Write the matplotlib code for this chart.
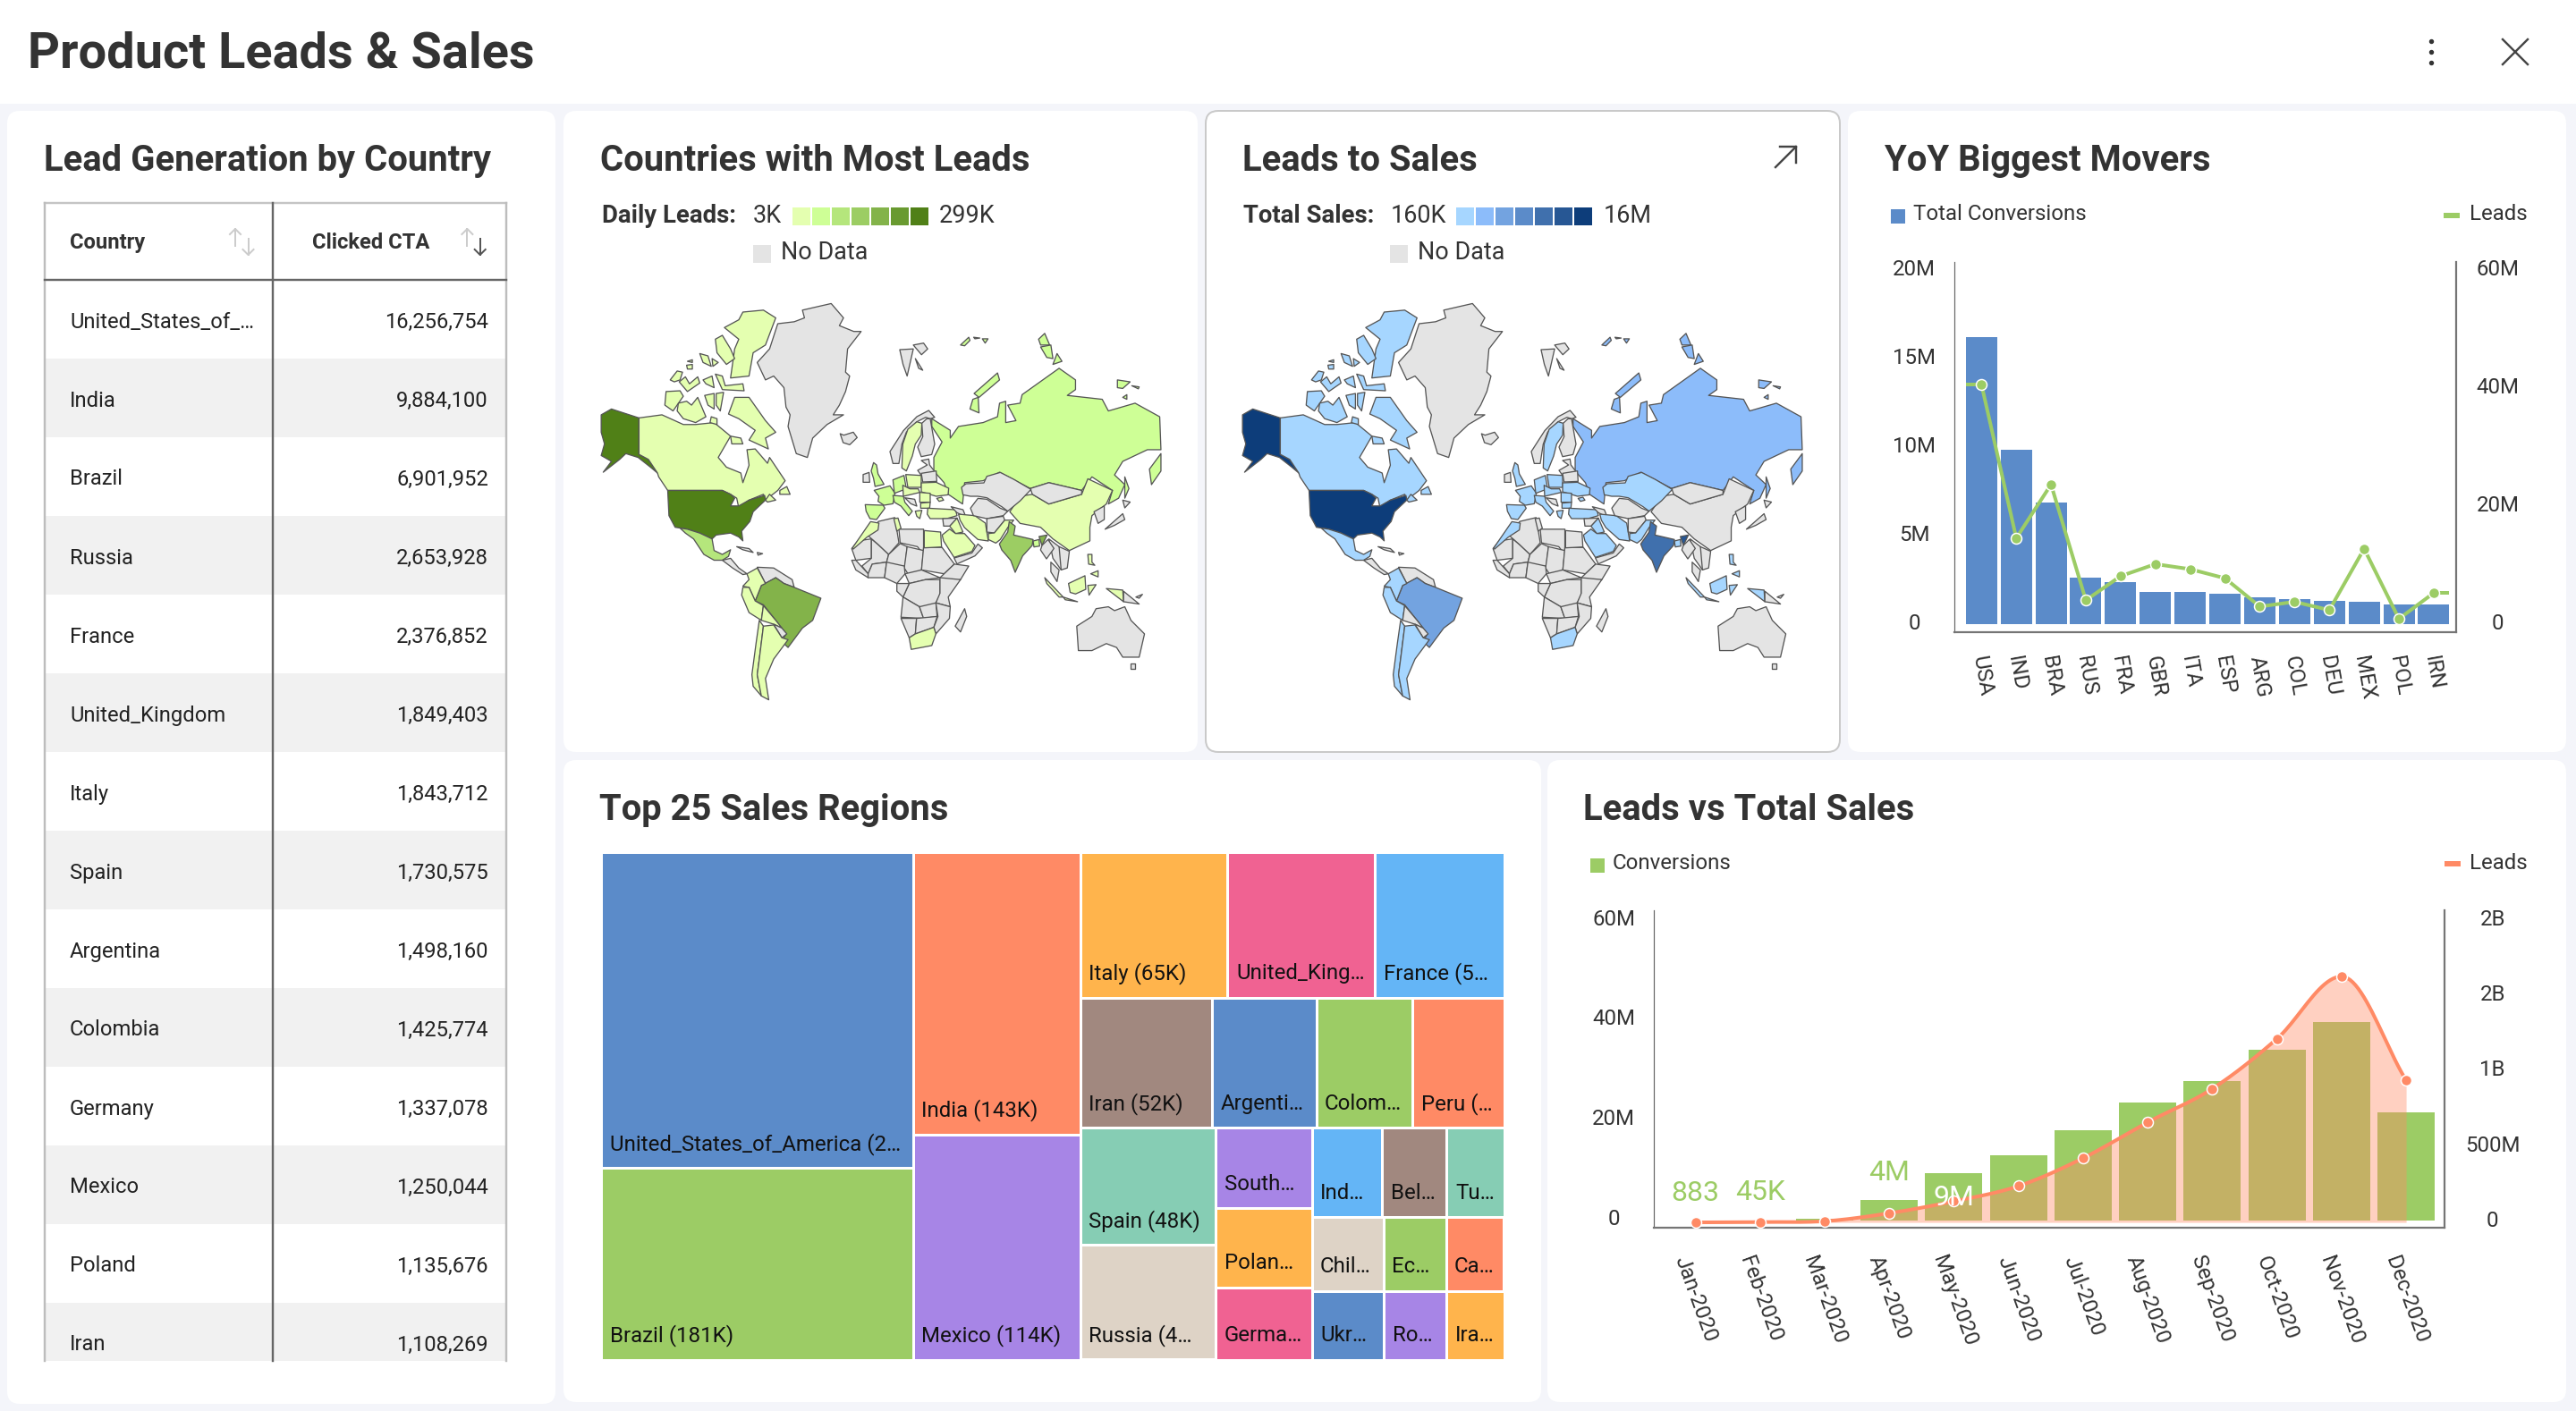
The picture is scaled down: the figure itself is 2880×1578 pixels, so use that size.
import numpy as np
import matplotlib
matplotlib.use("Agg")
import matplotlib.pyplot as plt
from matplotlib.patches import FancyBboxPatch, Polygon, Rectangle
from matplotlib.transforms import ScaledTranslation

plt.rcParams["font.family"] = ["Roboto", "DejaVu Sans"]

W, H = 2880, 1578
TXT = "#333333"

# table / YoY chart
countries = ["United_States_of_…", "India", "Brazil", "Russia", "France", "United_Kingdom", "Italy",
             "Spain", "Argentina", "Colombia", "Germany", "Mexico", "Poland", "Iran"]
clicked_cta = [16256754, 9884100, 6901952, 2653928, 2376852, 1849403, 1843712,
               1730575, 1498160, 1425774, 1337078, 1250044, 1135676, 1108269]
codes = ["USA", "IND", "BRA", "RUS", "FRA", "GBR", "ITA", "ESP", "ARG", "COL", "DEU", "MEX", "POL", "IRN"]
yoy_leads = [40.66, 14.6, 23.7, 4.07, 8.16, 10.2, 9.34, 7.8, 3.0, 3.8, 2.4, 12.8, 0.92, 5.3]  # millions

# monthly chart
months = ["Jan-2020", "Feb-2020", "Mar-2020", "Apr-2020", "May-2020", "Jun-2020", "Jul-2020",
          "Aug-2020", "Sep-2020", "Oct-2020", "Nov-2020", "Dec-2020"]
conversions = [0.000883, 0.045, 0.45, 4.06, 9.4, 13.0, 18.0, 23.6, 27.9, 34.1, 39.7, 21.6]  # millions
month_leads = [0.0, 2.6, 8, 61, 140, 241, 426, 664, 886, 1217, 1630, 942]  # millions
conv_labels = {0: "883", 1: "45K", 3: "4M", 4: "9M"}

# treemap
BLUE, GREEN, CORAL, PURPLE = "#5b8bc9", "#9ccc65", "#ff8a65", "#a785e6"
AMBER, PINK, SKY, BROWN, TEAL, SAND = "#ffb44c", "#f06292", "#64b5f6", "#a1887f", "#86cdb4", "#ded3c6"
tree_names = ["USA", "BRA", "IND", "MEX", "ITA", "GBR", "FRA", "IRN", "ARG", "COL", "PER", "ESP", "RUS",
              "ZAF", "POL", "DEU", "IDN", "BEL", "TUR", "CHL", "ECU", "CAN", "UKR", "ROU", "IRQ"]
tree_values = [299, 181, 143, 114, 65, 65, 57, 52, 41, 38, 36, 48, 47,
               23.5, 23, 21, 19, 17.5, 15.5, 16, 14, 13, 15, 13, 12]
tree_labels = ["United_States_of_America (2…", "Brazil (181K)", "India (143K)", "Mexico (114K)", "Italy (65K)",
               "United_King…", "France (5…", "Iran (52K)", "Argenti…", "Colom…", "Peru (…", "Spain (48K)",
               "Russia (4…", "South…", "Polan…", "Germa…", "Ind…", "Bel…", "Tu…", "Chil…", "Ec…", "Ca…",
               "Ukr…", "Ro…", "Ira…"]
tree_colors = [BLUE, GREEN, CORAL, PURPLE, AMBER, PINK, SKY, BROWN, BLUE, GREEN, CORAL, TEAL, SAND,
               PURPLE, AMBER, PINK, SKY, BROWN, TEAL, SAND, GREEN, CORAL, BLUE, PURPLE, AMBER]
tree_layout = [["USA", "BRA"], ["IND", "MEX"],
               [["ITA", "GBR", "FRA"], ["IRN", "ARG", "COL", "PER"],
                [["ESP", "RUS"], ["ZAF", "POL", "DEU"],
                 [["IDN", "BEL", "TUR"], ["CHL", "ECU", "CAN"], ["UKR", "ROU", "IRQ"]]]]]

# map legends
green_bins = ["#e4ffb0", "#ceff96", "#b5e67c", "#9ccd63", "#83b34a", "#699a30", "#508017"]
blue_bins = ["#a6d6ff", "#8cbcfa", "#73a3e0", "#5b8bc9", "#4070ad", "#275794", "#0d3d7a"]
NO_DATA = "#e4e4e4"

# which legend bin each shape falls in, anything not listed is No Data
leads_bin = {"alaska": 6, "usa": 6, "canada": 0, "ellesmere": 0, "axel": 0, "baffin": 0, "arc1": 0, "arc2": 0, "arc3": 0,
             "arc4": 0, "arc5": 0, "arc6": 0, "arc7": 0, "arc8": 0, "arc9": 0, "arc10": 0, "arc11": 0, "arc12": 0,
             "arc13": 0, "arc14": 0, "newf": 0, "scotia": 0, "mexico": 2, "brazil": 4, "colombia": 0, "peru": 0,
             "bolivia": 0, "chile": 0, "argentina": 0, "russia": 1, "kamchatka": 1, "sakhalin": 1, "zemlya1": 1,
             "zemlya2": 1, "sib1": 1, "sib2": 1, "sib3": 1, "sib4": 1, "sib5": 1, "sib6": 1, "fj1": 1, "fj2": 1, "fj3": 1,
             "china": 0, "india": 3, "neindia": 4, "bangla": 1, "pakistan": 0, "iran": 0, "iraq": 0, "saudi": 0,
             "turkey": 0, "egypt": 0, "morocco": 0, "tunisia": 0, "safrica": 0, "sweden": 0, "uk": 1, "france": 1,
             "spain": 1, "germany": 1, "poland": 0, "ukraine": 0, "italy": 1, "austria": 0, "romania": 0,
             "bulgaria": 0, "greece": 0, "crimea": 0, "sumatra": 0, "java": 0, "borneo": 0, "sulawesi": 0,
             "phil": 0, "phil2": 0, "png": 0}
sales_bin = {"alaska": 6, "usa": 6, "canada": 0, "ellesmere": 0, "axel": 0, "baffin": 0, "arc1": 0, "arc2": 0, "arc3": 0,
             "arc4": 0, "arc5": 0, "arc6": 0, "arc7": 0, "arc8": 0, "arc9": 0, "arc10": 0, "arc11": 0, "arc12": 0,
             "arc13": 0, "arc14": 0, "newf": 0, "scotia": 0, "mexico": 0, "brazil": 2, "colombia": 0, "peru": 0,
             "chile": 0, "argentina": 0, "russia": 1, "kamchatka": 1, "sakhalin": 1, "zemlya1": 1,
             "zemlya2": 1, "sib1": 1, "sib2": 1, "sib3": 1, "sib4": 1, "sib5": 1, "sib6": 1, "fj1": 1, "fj2": 1, "fj3": 1,
             "kazakh": 0, "india": 4, "neindia": 5, "bangla": 0, "pakistan": 0, "iran": 0, "saudi": 0,
             "turkey": 0, "morocco": 0, "safrica": 0, "sweden": 0, "uk": 0, "france": 0, "spain": 0, "germany": 0,
             "poland": 0, "ukraine": 0, "italy": 0, "austria": 0, "romania": 0, "bulgaria": 0, "greece": 0,
             "crimea": 0, "sumatra": 0, "java": 0, "borneo": 0, "sulawesi": 0, "phil": 0, "phil2": 0, "png": 0,
             "iraq": 0}

# rough outlines of the base map, traced by eye (map units)
world = {
    "alaska": [(70, 770), (95, 755), (162, 778), (162, 872), (185, 885), (207, 920), (190, 905), (160, 880), (130, 870),
               (115, 885), (75, 918), (95, 890), (70, 875), (78, 845), (70, 815)],
    "canada": [(162, 778), (218, 770), (270, 795), (300, 795), (345, 790), (385, 825), (355, 880), (375, 905), (410, 920),
               (415, 945), (430, 900), (425, 860), (445, 858), (475, 895), (480, 880), (518, 940), (500, 965), (470, 990),
               (465, 975), (430, 990), (405, 1010), (400, 985), (385, 975), (365, 965), (232, 965), (210, 930), (207, 920),
               (185, 885), (162, 872)],
    "usa": [(232, 965), (365, 965), (385, 975), (395, 985), (385, 1005), (405, 1005), (430, 990), (468, 978), (470, 990),
            (440, 1020), (432, 1045), (412, 1070), (415, 1095), (405, 1085), (385, 1075), (350, 1080), (340, 1090),
            (310, 1075), (280, 1065), (250, 1060), (235, 1030)],
    "mexico": [(262, 1062), (280, 1065), (310, 1075), (340, 1090), (345, 1120), (365, 1130), (385, 1118), (380, 1135),
               (365, 1145), (345, 1145), (320, 1130), (295, 1090), (275, 1075)],
    "camerica": [(365, 1145), (385, 1140), (405, 1165), (425, 1180), (415, 1182), (390, 1165)],
    "cuba": [(400, 1110), (430, 1115), (440, 1125), (415, 1118)],
    "hisp": [(450, 1125), (463, 1128), (452, 1132)],
    "greenland": [(560, 500), (630, 483), (660, 520), (650, 540), (685, 555), (703, 555), (670, 600), (665, 660), (675, 670),
                  (665, 710), (650, 745), (635, 770), (660, 770), (620, 795), (585, 830), (572, 880), (545, 870), (525, 800),
                  (530, 770), (520, 750), (515, 700), (490, 670), (470, 680), (450, 635), (480, 600), (500, 535), (540, 530),
                  (565, 520)],
    "ellesmere": [(415, 505), (465, 500), (495, 520), (470, 590), (440, 610), (430, 670), (385, 675), (395, 600), (405, 575),
                  (370, 545), (405, 525)],
    "axel": [(348, 575), (365, 565), (385, 600), (395, 625), (375, 640), (352, 610)],
    "baffin": [(395, 725), (430, 725), (470, 785), (495, 815), (470, 830), (477, 858), (430, 835), (445, 810), (405, 780),
               (380, 768)],
    "arc1": [(310, 612), (330, 618), (338, 645), (318, 635)],
    "arc2": [(340, 625), (355, 635), (342, 645)],
    "arc3": [(280, 632), (292, 628), (292, 635)],
    "arc4": [(278, 642), (292, 640), (292, 652), (280, 652)],
    "arc5": [(238, 680), (255, 657), (268, 660), (262, 680), (248, 685)],
    "arc6": [(260, 685), (275, 672), (285, 690), (305, 672), (310, 688), (280, 710)],
    "arc7": [(318, 680), (340, 670), (345, 700), (325, 690)],
    "arc8": [(348, 665), (365, 670), (372, 695), (415, 690), (418, 708), (365, 705)],
    "arc9": [(228, 710), (262, 708), (270, 722), (245, 760), (225, 745)],
    "arc10": [(258, 740), (278, 735), (290, 745), (305, 725), (325, 775), (300, 790), (270, 780), (255, 760)],
    "arc11": [(322, 720), (345, 715), (345, 755), (330, 745)],
    "arc12": [(350, 715), (368, 712), (360, 760), (350, 745)],
    "arc13": [(338, 775), (352, 780), (352, 795), (335, 790)],
    "arc14": [(385, 825), (410, 830), (415, 845), (388, 845)],
    "newf": [(505, 965), (522, 955), (530, 975), (505, 975)],
    "scotia": [(470, 990), (480, 975), (495, 990), (475, 995)],
    "venezuela": [(450, 1163), (490, 1165), (535, 1195), (540, 1215), (515, 1205), (495, 1190), (470, 1205)],
    "brazil": [(460, 1210), (495, 1190), (515, 1205), (540, 1215), (605, 1243), (585, 1300), (560, 1320), (525, 1370),
               (510, 1355), (520, 1335), (495, 1300), (465, 1260), (445, 1250)],
    "colombia": [(425, 1180), (450, 1165), (470, 1205), (460, 1210), (445, 1250), (430, 1215), (415, 1212), (430, 1195)],
    "peru": [(415, 1215), (430, 1215), (445, 1250), (465, 1262), (460, 1300), (430, 1280), (412, 1235)],
    "bolivia": [(465, 1262), (495, 1300), (510, 1320), (490, 1310), (460, 1300)],
    "paraguay": [(490, 1310), (510, 1320), (522, 1335), (510, 1345)],
    "chile": [(455, 1300), (465, 1315), (455, 1400), (450, 1440), (460, 1495), (440, 1470), (437, 1440), (447, 1360)],
    "argentina": [(465, 1315), (490, 1312), (510, 1345), (525, 1350), (490, 1400), (470, 1450), (478, 1505), (460, 1495),
                  (450, 1440), (455, 1400)],
    "mauritania": [(680, 1115), (695, 1095), (728, 1090), (728, 1140), (690, 1145)],
    "mali": [(728, 1090), (745, 1105), (770, 1130), (765, 1150), (730, 1155), (720, 1180), (705, 1160), (728, 1140)],
    "algeria": [(745, 1045), (785, 1035), (795, 1100), (770, 1130), (745, 1105), (718, 1080)],
    "libya": [(795, 1065), (855, 1065), (855, 1130), (840, 1110), (798, 1100)],
    "niger": [(770, 1130), (798, 1102), (815, 1110), (810, 1160), (770, 1165), (765, 1150)],
    "chad": [(815, 1110), (855, 1120), (850, 1170), (820, 1185), (808, 1165)],
    "sudan": [(855, 1112), (900, 1112), (930, 1155), (905, 1180), (850, 1170)],
    "ethiopia": [(905, 1180), (930, 1155), (965, 1160), (945, 1195), (905, 1205), (895, 1190)],
    "senegal": [(680, 1145), (690, 1145), (720, 1180), (720, 1190), (690, 1170)],
    "ghana": [(720, 1180), (730, 1155), (765, 1150), (760, 1190), (720, 1190)],
    "nigeria": [(765, 1150), (808, 1160), (810, 1180), (790, 1205), (760, 1190)],
    "car": [(810, 1180), (850, 1170), (895, 1190), (860, 1195), (820, 1205)],
    "drc": [(820, 1205), (860, 1195), (895, 1195), (895, 1235), (885, 1255), (880, 1290), (845, 1265), (805, 1240)],
    "gabon": [(790, 1205), (820, 1205), (805, 1240), (790, 1225)],
    "kenya": [(895, 1190), (945, 1195), (915, 1240), (920, 1265), (885, 1255), (895, 1230)],
    "angola": [(805, 1240), (845, 1265), (855, 1295), (800, 1292)],
    "namibia": [(800, 1295), (838, 1295), (835, 1335), (820, 1345)],
    "zambia": [(845, 1265), (885, 1255), (888, 1290), (855, 1295)],
    "botswana": [(838, 1295), (888, 1290), (880, 1318), (835, 1335)],
    "mozambique": [(885, 1255), (920, 1265), (918, 1295), (885, 1335), (880, 1318), (890, 1290)],
    "safrica": [(820, 1345), (835, 1335), (880, 1318), (885, 1335), (875, 1365), (825, 1375)],
    "madagascar": [(955, 1270), (960, 1290), (945, 1330), (932, 1315)],
    "russia": [(875, 780), (920, 810), (920, 830), (940, 800), (1000, 790), (1035, 775), (1040, 740), (1055, 735), (1055, 790),
               (1080, 785), (1060, 745), (1090, 740), (1095, 718), (1185, 650), (1225, 680), (1225, 705), (1205, 720),
               (1290, 730), (1305, 760), (1370, 740), (1430, 775), (1433, 860), (1400, 860), (1340, 890), (1320, 925),
               (1345, 950), (1330, 985), (1305, 1000), (1315, 965), (1265, 930), (1240, 965), (1160, 945), (1115, 960),
               (1040, 918), (1000, 940), (955, 945), (950, 1000), (915, 975), (905, 945), (880, 915), (880, 880), (900, 840),
               (875, 800)],
    "kamchatka": [(1433, 870), (1405, 910), (1410, 950), (1433, 915)],
    "sakhalin": [(1345, 930), (1355, 960), (1345, 985)],
    "zemlya1": [(978, 715), (1035, 662), (1040, 680), (990, 725)],
    "zemlya2": [(975, 730), (988, 725), (990, 765), (968, 755)],
    "sib1": [(1135, 575), (1150, 560), (1162, 590), (1140, 590)],
    "sib2": [(1140, 595), (1165, 590), (1170, 625), (1155, 622)],
    "sib3": [(1170, 640), (1180, 612), (1192, 632)],
    "sib4": [(1327, 680), (1358, 685), (1340, 702), (1327, 700)],
    "sib5": [(1362, 695), (1380, 698), (1378, 703)],
    "sib6": [(1340, 725), (1350, 718), (1350, 730)],
    "fj1": [(945, 590), (965, 570), (968, 578), (955, 592)],
    "fj2": [(977, 570), (992, 572), (980, 574)],
    "fj3": [(998, 574), (1012, 574), (1005, 585)],
    "sval1": [(797, 602), (830, 600), (815, 670), (805, 640)],
    "sval2": [(830, 590), (855, 585), (865, 600), (850, 615)],
    "sval3": [(835, 625), (853, 655), (843, 650)],
    "china": [(1120, 975), (1160, 1000), (1240, 975), (1255, 935), (1315, 965), (1300, 1000), (1265, 1030), (1260, 1060),
              (1260, 1095), (1210, 1120), (1170, 1090), (1140, 1060), (1090, 1050), (1065, 1020), (1090, 980)],
    "mongolia": [(1115, 960), (1160, 945), (1240, 965), (1240, 975), (1160, 1000), (1120, 975)],
    "japan": [(1297, 1065), (1340, 1025), (1345, 1040), (1320, 1055)],
    "hokkaido": [(1340, 990), (1358, 995), (1345, 1010)],
    "korea": [(1270, 1020), (1295, 1005), (1295, 1040), (1280, 1050)],
    "thai": [(1160, 1090), (1185, 1110), (1205, 1150), (1190, 1170), (1170, 1140)],
    "vietnam": [(1185, 1110), (1210, 1122), (1205, 1165), (1190, 1170)],
    "malay": [(1165, 1150), (1185, 1170), (1180, 1200), (1165, 1175)],
    "sumatra": [(1150, 1190), (1195, 1240), (1185, 1240), (1155, 1205)],
    "java": [(1195, 1240), (1230, 1252), (1200, 1247)],
    "borneo": [(1208, 1205), (1248, 1185), (1250, 1220), (1225, 1232), (1212, 1228)],
    "sulawesi": [(1255, 1210), (1275, 1208), (1258, 1235)],
    "phil": [(1255, 1130), (1265, 1130), (1265, 1150), (1272, 1158), (1257, 1155)],
    "phil2": [(1262, 1180), (1280, 1172), (1280, 1188)],
    "png": [(1300, 1218), (1340, 1222), (1342, 1252)],
    "png2": [(1342, 1225), (1380, 1258), (1342, 1252)],
    "png3": [(1372, 1240), (1388, 1233), (1380, 1243)],
    "australia": [(1228, 1315), (1265, 1290), (1275, 1270), (1305, 1265), (1320, 1275), (1345, 1265), (1360, 1300), (1393, 1335),
                  (1380, 1395), (1340, 1395), (1325, 1370), (1300, 1360), (1265, 1378), (1232, 1378)],
    "tasmania": [(1358, 1412), (1370, 1412), (1370, 1425), (1360, 1425)],
}

# Europe and the middle east were traced on a closer crop, so they get scaled down into map units
europe = {
    "iceland": [(28, 135), (40, 140), (72, 130), (85, 148), (60, 172), (38, 165)],
    "norway": [(195, 195), (240, 125), (285, 78), (325, 57), (345, 80), (330, 85), (315, 80), (285, 95), (250, 130), (235, 170),
               (225, 235), (205, 235)],
    "sweden": [(285, 95), (302, 100), (300, 140), (280, 170), (270, 210), (250, 260), (235, 250), (238, 170), (255, 120)],
    "finland": [(330, 85), (345, 170), (335, 205), (300, 212), (288, 180), (305, 145), (302, 100), (318, 85)],
    "baltics": [(300, 225), (325, 220), (328, 240), (345, 262), (300, 275), (288, 258), (320, 240)],
    "uk": [(140, 232), (150, 240), (155, 270), (175, 305), (145, 312), (140, 285), (132, 260)],
    "ireland": [(105, 272), (125, 265), (127, 298), (105, 298)],
    "france": [(142, 325), (195, 310), (212, 335), (205, 370), (175, 375), (155, 362), (158, 345)],
    "spain": [(112, 373), (172, 375), (178, 385), (150, 423), (128, 420), (115, 395)],
    "germany": [(205, 290), (242, 275), (250, 320), (210, 335)],
    "poland": [(248, 272), (300, 275), (300, 315), (255, 315)],
    "belarus": [(300, 268), (350, 260), (352, 295), (305, 297)],
    "ukraine": [(300, 300), (350, 298), (392, 318), (390, 340), (350, 345), (300, 330)],
    "italy": [(205, 342), (240, 345), (245, 365), (270, 395), (258, 410), (232, 378), (210, 365)],
    "austria": [(238, 308), (262, 320), (290, 320), (295, 332), (240, 345)],
    "romania": [(295, 332), (330, 335), (330, 365), (295, 365)],
    "bulgaria": [(298, 368), (330, 365), (328, 385), (298, 385)],
    "balkans": [(245, 350), (278, 355), (285, 378), (265, 370)],
    "greece": [(280, 395), (302, 392), (295, 420), (285, 412)],
    "turkey": [(322, 385), (415, 390), (420, 410), (385, 420), (330, 420), (320, 405)],
    "crimea": [(352, 352), (368, 348), (375, 358), (360, 362)],
    "caucasus": [(400, 380), (440, 390), (450, 415), (420, 400)],
    "iran": [(425, 405), (480, 410), (515, 435), (525, 495), (490, 490), (445, 450), (430, 425)],
    "iraq": [(395, 445), (420, 418), (440, 465), (415, 470)],
    "syria": [(372, 420), (420, 418), (395, 445), (375, 445)],
    "saudi": [(370, 475), (395, 455), (415, 470), (445, 470), (480, 510), (470, 530), (410, 550), (375, 495)],
    "yemen": [(410, 552), (470, 535), (490, 505), (505, 518), (480, 545), (420, 572)],
    "egypt": [(310, 460), (365, 465), (368, 515), (310, 518)],
    "tunisia": [(208, 420), (222, 418), (232, 452), (218, 462)],
    "morocco": [(68, 520), (130, 430), (158, 435), (155, 458), (118, 482), (72, 522)],
    "kazakh": [(435, 315), (450, 303), (510, 300), (520, 278), (565, 265), (610, 288), (668, 322), (632, 360), (590, 395),
               (570, 380), (520, 350), (490, 345), (465, 345), (440, 340)],
    "uzbek": [(465, 385), (490, 352), (520, 355), (565, 385), (590, 395), (575, 410), (520, 420), (475, 410)],
    "afghan": [(520, 420), (575, 412), (580, 425), (545, 468), (520, 465)],
    "pakistan": [(525, 470), (545, 468), (580, 425), (610, 425), (590, 450), (565, 490), (550, 502), (525, 490)],
    "india": [(595, 430), (615, 445), (610, 475), (675, 490), (672, 510), (640, 545), (615, 600), (600, 560), (570, 525),
              (562, 505), (590, 465)],
    "bangla": [(675, 495), (695, 490), (697, 512), (678, 515)],
    "neindia": [(695, 480), (722, 475), (705, 510)],
    "myanmar": [(705, 510), (725, 490), (745, 520), (720, 555), (700, 525)],
}
for name, pts in europe.items():
    world[name] = [(631.6 + 0.726 * x, 714.9 + 0.7687 * y) for x, y in pts]


def fs(px):
    # font size / line width given in image pixels
    return px * 0.72


def smooth(xs, ys, n=24):
    # cubic hermite through the points, flat at peaks so the curve stays on them
    xs, ys = np.asarray(xs, float), np.asarray(ys, float)
    m = np.gradient(ys, xs)
    d = np.diff(ys)
    for i in range(1, len(ys) - 1):
        if d[i - 1] * d[i] <= 0:
            m[i] = 0
    xx, yy = [], []
    for i in range(len(xs) - 1):
        t = np.linspace(0, 1, n)
        yy.append((2*t**3 - 3*t**2 + 1)*ys[i] + (t**3 - 2*t**2 + t)*m[i] + (-2*t**3 + 3*t**2)*ys[i+1] + (t**3 - t**2)*m[i+1])
        xx.append(xs[i] + t)
    return np.concatenate(xx), np.concatenate(yy)


def px_axes(left, top, right, bottom):
    return fig.add_axes([left / W, 1 - bottom / H, (right - left) / W, (bottom - top) / H], facecolor="none")


def lift_ticks(axis, px):
    # tick labels sit a little above their value in the reference
    off = ScaledTranslation(0, px / 100, fig.dpi_scale_trans)
    for lab in axis.get_yticklabels():
        lab.set_transform(lab.get_transform() + off)


def card(x0, y0, x1, y1, border="none"):
    bg.add_patch(FancyBboxPatch((x0 + 14, y0 + 14), x1 - x0 - 28, y1 - y0 - 28, boxstyle="round,pad=14,rounding_size=14",
                                fc="white", ec=border, lw=fs(2), zorder=1))


def title(x, y, s):
    bg.text(x, y + 3.5, s, fontsize=fs(40), fontweight="bold", color=TXT, va="center", ha="left", zorder=5)


def draw_map(dx, bins, palette):
    for name, pts in world.items():
        b = bins.get(name, -1)
        col = palette[b] if b >= 0 else NO_DATA
        xy = [(640 + x / 2.178 + dx, 130 + y / 2.306) for x, y in pts]
        bg.add_patch(Polygon(xy, closed=True, fc=col, ec="#555555", lw=fs(1.3), joinstyle="round", zorder=3))


def map_legend(x_lab, s, x_lo, lo, x_sw, palette, x_hi, hi, x_nd, x_ndt):
    bg.text(x_lab, 241, s, fontsize=fs(27.5), fontweight="bold", color=TXT, va="center", zorder=5)
    bg.text(x_lo, 241, lo, fontsize=fs(27), color=TXT, va="center", zorder=5)
    for i, c in enumerate(palette):
        bg.add_patch(Rectangle((x_sw + i * 22, 232), 20, 20, fc=c, ec="none", zorder=3))
    bg.text(x_hi, 241, hi, fontsize=fs(27), color=TXT, va="center", zorder=5)
    bg.add_patch(Rectangle((x_nd, 274), 20, 20, fc=NO_DATA, ec="none", zorder=3))
    bg.text(x_ndt, 282, "No Data", fontsize=fs(27), color=TXT, va="center", zorder=5)


def sort_arrows(x_up, x_down, col_up, col_down):
    for x, y0, y1, c in [(x_up, 275, 256, col_up), (x_down, 267, 285, col_down)]:
        d = 6 if y1 > y0 else -6
        bg.plot([x, x], [y0, y1], color=c, lw=fs(2), zorder=5)
        bg.plot([x - 6, x, x + 6], [y1 - d, y1, y1 - d], color=c, lw=fs(2), zorder=5)


def layout(node, x0, y0, x1, y1, across=True):
    # nested slice layout, sizes come from the values
    if isinstance(node, str):
        i = tree_names.index(node)
        tree.add_patch(Rectangle((x0, y0), x1 - x0, y1 - y0, fc=tree_colors[i], ec="white", lw=fs(3)))
        tree.annotate(tree_labels[i], (x0, y1), xytext=(fs(9.5), fs(27)), textcoords="offset points",
                      fontsize=fs(24), color="#111111", va="center", ha="left")
        return
    sizes = [node_total(c) for c in node]
    pos = 0
    total = sum(sizes)
    for c, s in zip(node, sizes):
        f0, f1 = pos / total, (pos + s) / total
        if across:
            layout(c, x0 + f0 * (x1 - x0), y0, x0 + f1 * (x1 - x0), y1, False)
        else:
            layout(c, x0, y0 + f0 * (y1 - y0), x1, y0 + f1 * (y1 - y0), True)
        pos += s


def node_total(node):
    if isinstance(node, str):
        return tree_values[tree_names.index(node)]
    return sum(node_total(c) for c in node)


fig = plt.figure(figsize=(W / 100, H / 100), dpi=100, facecolor="#f4f5fa")
bg = fig.add_axes([0, 0, 1, 1], facecolor="none")
bg.set_xlim(0, W)
bg.set_ylim(H, 0)
bg.axis("off")

# top bar
bg.add_patch(Rectangle((0, 0), W, 116, fc="white", ec="none", zorder=0))
bg.text(31, 60, "Product Leads & Sales", fontsize=fs(56), fontweight="bold", color=TXT, va="center", zorder=5)
for y in [46, 58, 70]:
    bg.plot([2718], [y], "o", ms=fs(4), color="#333333", zorder=5)
bg.plot([2798, 2826], [44, 72], color="#444444", lw=fs(2.4), zorder=5)
bg.plot([2798, 2826], [72, 44], color="#444444", lw=fs(2.4), zorder=5)

card(8, 124, 621, 1570)
card(630, 124, 1339, 841)
card(1348, 124, 2057, 841, border="#c9c9c9")
card(2066, 124, 2869, 841)
card(630, 850, 1723, 1568)
card(1730, 850, 2869, 1568)

title(49, 176, "Lead Generation by Country")
title(671, 176, "Countries with Most Leads")
title(1389, 176, "Leads to Sales")
title(2107, 176, "YoY Biggest Movers")
title(670, 902, "Top 25 Sales Regions")
title(1770, 902, "Leads vs Total Sales")

# table
tx0, tx1, tx2, ty0, ty1, ty2, row_h = 50, 305, 566, 227, 313, 1522, 88
for i, (c, v) in enumerate(zip(countries, clicked_cta)):
    top = ty1 + i * row_h
    if i % 2 == 1:
        bg.add_patch(Rectangle((tx0, top), tx2 - tx0, min(row_h, ty2 - top), fc="#f1f1f1", ec="none", zorder=2))
    bg.text(78, top + row_h / 2 + 3, c, fontsize=fs(23.7), color="#222222", va="center", zorder=5)
    bg.text(546, top + row_h / 2 + 3, f"{v:,}", fontsize=fs(23.7), color="#222222", va="center", ha="right", zorder=5)
bg.text(78, 271, "Country", fontsize=fs(23.7), fontweight="bold", color=TXT, va="center", zorder=5)
bg.text(349, 271, "Clicked CTA", fontsize=fs(23.7), fontweight="bold", color=TXT, va="center", zorder=5)
sort_arrows(263, 277.5, "#cccccc", "#cccccc")
sort_arrows(522.4, 536.7, "#cccccc", "#555555")
bg.plot([tx0, tx2], [ty0, ty0], color="#c4c4c4", lw=fs(2.4), zorder=4)
bg.plot([tx0, tx0], [ty0, ty2], color="#bdbdbd", lw=fs(2.4), zorder=4)
bg.plot([tx2, tx2], [ty0, ty2], color="#bdbdbd", lw=fs(2.4), zorder=4)
bg.plot([tx1, tx1], [ty0, ty2], color="#666666", lw=fs(2.4), zorder=4)
bg.plot([tx0, tx2], [ty1, ty1], color="#666666", lw=fs(2.4), zorder=4)

# maps
map_legend(673, "Daily Leads:", 842, "3K", 886, green_bins, 1050, "299K", 842, 873)
map_legend(1390, "Total Sales:", 1555, "160K", 1628, blue_bins, 1793, "16M", 1554, 1585)
draw_map(0, leads_bin, green_bins)
draw_map(717, sales_bin, blue_bins)

# expand arrow on the selected card
bg.plot([1985, 2008], [187, 164], color="#444444", lw=fs(2.4), zorder=5)
bg.plot([1990, 2008, 2008], [164, 164, 182], color="#444444", lw=fs(2.4), zorder=5)

# YoY chart
ax = px_axes(2184.6, 292.6, 2745.8, 706.8)
x = np.arange(len(codes))
ax.bar(x, np.array(clicked_cta) / 1e6, width=0.9, color=BLUE)
ax.set_xlim(-0.79, 13.64)
ax.set_ylim(-0.44, 20.5)
ax.set_yticks([0, 5, 10, 15, 20])
ax.set_yticklabels(["0", "5M", "10M", "15M", "20M"], ha="center", fontsize=fs(24), color=TXT)
ax.tick_params(axis="y", length=0, pad=fs(44.6))
ax.set_xticks(x)
ax.set_xticklabels(codes, rotation=-80, ha="center", va="top", fontsize=fs(24), color=TXT)
ax.tick_params(axis="x", length=0, pad=fs(25))
ax.spines["top"].set_visible(False)
ax.spines["right"].set_visible(False)
ax.spines["left"].set_color("#666666")
ax.spines["left"].set_linewidth(fs(1.2))
ax.spines["bottom"].set_color("#757575")
ax.spines["bottom"].set_linewidth(fs(2.2))
lift_ticks(ax, 3)

ax2 = ax.twinx()
ax2.set_ylim(-1.32, 61.5)
ax2.plot([-0.45, 0], [yoy_leads[0]] * 2, color=GREEN, lw=fs(4), solid_capstyle="butt")
ax2.plot([13, 13.45], [yoy_leads[-1]] * 2, color=GREEN, lw=fs(4), solid_capstyle="butt")
ax2.plot(x, yoy_leads, color=GREEN, lw=fs(4), marker="o", ms=fs(12), mec="white", mew=fs(1.5))
ax2.set_yticks([0, 20, 40, 60])
ax2.set_yticklabels(["0", "20M", "40M", "60M"], ha="center", fontsize=fs(24), color=TXT)
ax2.tick_params(axis="y", length=0, pad=fs(47))
for s in ["top", "left", "bottom"]:
    ax2.spines[s].set_visible(False)
ax2.spines["right"].set_color("#757575")
ax2.spines["right"].set_linewidth(fs(2.2))
lift_ticks(ax2, 3)

bg.add_patch(Rectangle((2114, 234), 16, 16, fc=BLUE, ec="none", zorder=3))
bg.text(2139, 239.5, "Total Conversions", fontsize=fs(24), color=TXT, va="center", zorder=5)
bg.add_patch(Rectangle((2732, 238), 18, 6, fc=GREEN, ec="none", zorder=3))
bg.text(2761, 239.5, "Leads", fontsize=fs(24), color=TXT, va="center", zorder=5)

# treemap
tree = px_axes(672, 952.5, 1681.5, 1520.5)
tree.set_xlim(0, 1)
tree.set_ylim(1, 0)
tree.axis("off")
layout(tree_layout, 0, 0, 1, 1)

# monthly chart
ax = px_axes(1849, 1018.5, 2732.7, 1373.4)
x = np.arange(len(months))
ax.bar(x, conversions, width=0.886, color=GREEN)
ax.set_xlim(-0.645, 11.59)
ax.set_ylim(-1.5, 62)
ax.set_yticks([0, 20, 40, 60])
ax.set_yticklabels(["0", "20M", "40M", "60M"], ha="center", fontsize=fs(24), color=TXT)
ax.tick_params(axis="y", length=0, pad=fs(45))
ax.set_xticks(x)
ax.set_xticklabels(months, rotation=-70, ha="center", va="top", fontsize=fs(24), color=TXT)
ax.tick_params(axis="x", length=0, pad=fs(28))
ax.spines["top"].set_visible(False)
ax.spines["right"].set_visible(False)
ax.spines["left"].set_color("#666666")
ax.spines["left"].set_linewidth(fs(1.2))
ax.spines["bottom"].set_color("#757575")
ax.spines["bottom"].set_linewidth(fs(2.2))
lift_ticks(ax, 4)

ax2 = ax.twinx()
ax2.set_ylim(-37.5, 2066)
xs, ys = smooth(x, month_leads)
ax2.fill_between(xs, 0, ys, color=CORAL, alpha=0.4, lw=0)
ax2.plot(xs, ys, color=CORAL, lw=fs(4))
ax2.plot(x, month_leads, "o", color=CORAL, ms=fs(12), mec="white", mew=fs(1.5))
ax2.set_yticks([0, 500, 1000, 1500, 2000])
ax2.set_yticklabels(["0", "500M", "1B", "2B", "2B"], ha="center", fontsize=fs(24), color=TXT)
ax2.tick_params(axis="y", length=0, pad=fs(54))
for s in ["top", "left", "bottom"]:
    ax2.spines[s].set_visible(False)
ax2.spines["right"].set_color("#757575")
ax2.spines["right"].set_linewidth(fs(2.2))
lift_ticks(ax2, 4)
for i, s in conv_labels.items():
    inside = s == "9M"
    ax2.annotate(s, (i, conversions[i]), xycoords=ax.transData, xytext=(0, fs(-27 if inside else 31)),
                 textcoords="offset points", ha="center", va="center", fontsize=fs(32),
                 color="white" if inside else GREEN)

bg.add_patch(Rectangle((1778, 960), 16, 16, fc=GREEN, ec="none", zorder=3))
bg.text(1803, 965, "Conversions", fontsize=fs(24), color=TXT, va="center", zorder=5)
bg.add_patch(Rectangle((2733, 963), 18, 6, fc=CORAL, ec="none", zorder=3))
bg.text(2761, 965, "Leads", fontsize=fs(24), color=TXT, va="center", zorder=5)

fig.savefig("out.png", dpi=100, facecolor=fig.get_facecolor())
